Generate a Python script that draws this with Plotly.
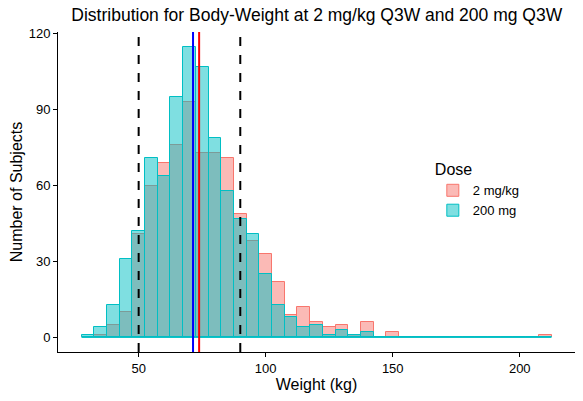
import plotly.graph_objects as go

# bin centres (kg), bin width 5
bin_centres = list(range(30, 215, 5))

# counts per bin
counts_2mgkg = [0, 1, 5, 10, 41, 60, 69, 76, 93, 73, 73, 71, 49, 38, 33, 22, 9, 12, 6, 4,
                5, 1, 6, 0, 2, 0, 0, 0, 0, 0, 0, 0, 0, 0, 0, 0, 1]
counts_200mg = [1, 4, 13, 31, 42, 71, 64, 95, 115, 107, 79, 58, 47, 41, 25, 13, 8, 4, 5, 1,
                3, 1, 2, 0, 0, 0, 0, 0, 0, 0, 0, 0, 0, 0, 0, 0, 0]

# reference lines
limits = [50, 90]
mean_2mgkg = 73.8
mean_200mg = 71.4

red = "#F8766D"
cyan = "#00BFC4"

fig = go.Figure()
fig.add_trace(go.Bar(x=bin_centres, y=counts_2mgkg, width=5, name="2 mg/kg",
                     marker=dict(color="rgba(248,118,109,0.5)", line=dict(color=red, width=1))))
fig.add_trace(go.Bar(x=bin_centres, y=counts_200mg, width=5, name="200 mg",
                     marker=dict(color="rgba(0,191,196,0.5)", line=dict(color=cyan, width=1))))
# outline of the empty bins along the bottom
fig.add_trace(go.Scatter(x=[bin_centres[0] - 2.5, bin_centres[-1] + 2.5], y=[0, 0],
                         mode="lines", line=dict(color=cyan, width=1),
                         showlegend=False, hoverinfo="skip"))

for v in limits:
    fig.add_vline(x=v, line=dict(color="black", width=2, dash="dash"))
fig.add_vline(x=mean_200mg, line=dict(color="blue", width=2))
fig.add_vline(x=mean_2mgkg, line=dict(color="red", width=2))

fig.update_layout(
    width=583, height=401,
    barmode="overlay",
    bargap=0,
    plot_bgcolor="white", paper_bgcolor="white",
    font=dict(family="Liberation Sans, Arial, sans-serif", color="black", size=13),
    margin=dict(l=58, r=8, t=32, b=49),
    title=dict(text="Distribution for Body-Weight at 2 mg/kg Q3W and 200 mg Q3W",
               x=0.5433, xanchor="center", y=0.962, yanchor="middle",
               font=dict(size=17.5, color="black")),
    legend=dict(title=dict(text="Dose", font=dict(size=16)), x=0.725, y=0.617,
                xanchor="left", yanchor="top", font=dict(size=13), itemwidth=30,
                bgcolor="rgba(0,0,0,0)", tracegroupgap=0),
    xaxis=dict(title=dict(text="Weight (kg)", font=dict(size=16), standoff=2),
               range=[18.25, 221.75], tickvals=[50, 100, 150, 200], automargin=False,
               showgrid=False, zeroline=False, showline=True, linecolor="black",
               linewidth=1, ticks="outside", ticklen=4, tickcolor="black"),
    yaxis=dict(title=dict(text="Number of Subjects", font=dict(size=16), standoff=2),
               range=[-5.75, 120.75], tickvals=[0, 30, 60, 90, 120], automargin=False,
               showgrid=False, zeroline=False, showline=True, linecolor="black",
               linewidth=1, ticks="outside", ticklen=4, tickcolor="black"),
)

fig.write_html("out.html", config={"displayModeBar": False},
               post_script="document.body.style.margin='0';")
